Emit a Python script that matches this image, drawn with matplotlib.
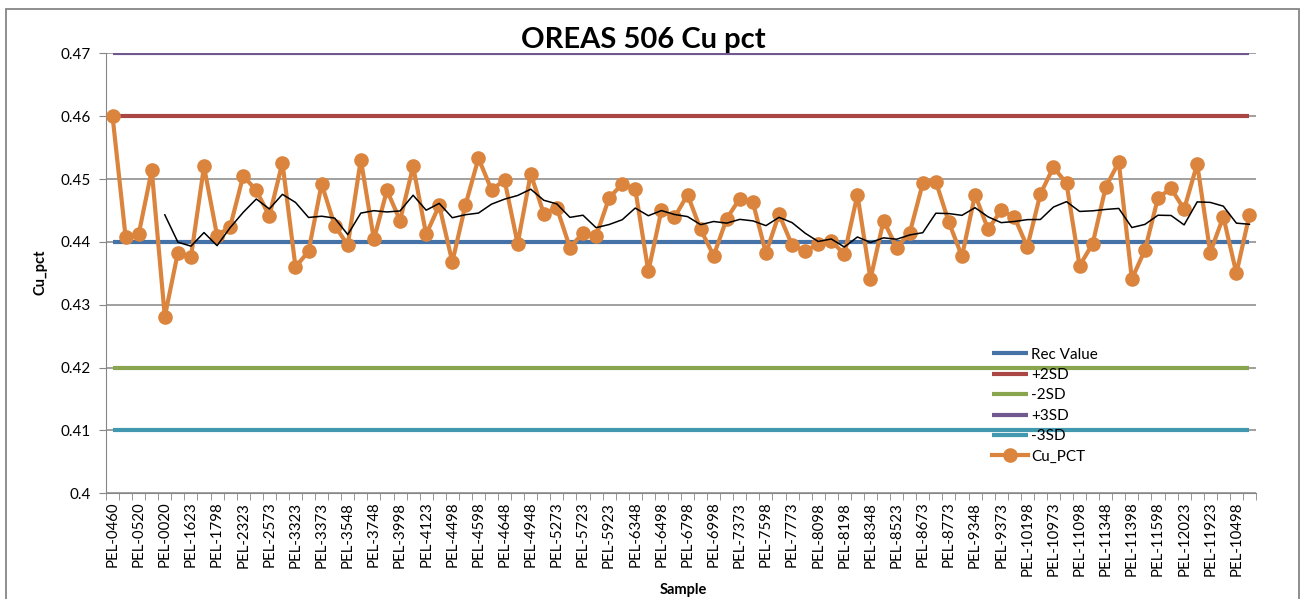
import matplotlib
matplotlib.use('Agg')
import matplotlib.pyplot as plt
from matplotlib.patches import Rectangle
import pandas as pd

plt.rcParams['font.family'] = ['Lato', 'DejaVu Sans']

# sample labels shown on the axis (every second sample)
labels = ['PEL-0460', 'PEL-0520', 'PEL-0020', 'PEL-1623', 'PEL-1798', 'PEL-2323', 'PEL-2573',
          'PEL-3323', 'PEL-3373', 'PEL-3548', 'PEL-3748', 'PEL-3998', 'PEL-4123', 'PEL-4498',
          'PEL-4598', 'PEL-4648', 'PEL-4948', 'PEL-5273', 'PEL-5723', 'PEL-5923', 'PEL-6348',
          'PEL-6498', 'PEL-6798', 'PEL-6998', 'PEL-7373', 'PEL-7598', 'PEL-7773', 'PEL-8098',
          'PEL-8198', 'PEL-8348', 'PEL-8523', 'PEL-8673', 'PEL-8773', 'PEL-9348', 'PEL-9373',
          'PEL-10198', 'PEL-10973', 'PEL-11098', 'PEL-11348', 'PEL-11398', 'PEL-11598',
          'PEL-12023', 'PEL-11923', 'PEL-10498']

cu_pct = [0.4600, 0.4408, 0.4412, 0.4514, 0.4281, 0.4383, 0.4376, 0.4520, 0.4410, 0.4424,
          0.4505, 0.4482, 0.4441, 0.4526, 0.4360, 0.4385, 0.4492, 0.4426, 0.4395, 0.4531,
          0.4404, 0.4482, 0.4434, 0.4520, 0.4412, 0.4458, 0.4368, 0.4458, 0.4533, 0.4483,
          0.4498, 0.4397, 0.4508, 0.4445, 0.4454, 0.4391, 0.4414, 0.4409, 0.4470, 0.4492,
          0.4484, 0.4353, 0.4450, 0.4439, 0.4475, 0.4420, 0.4378, 0.4437, 0.4469, 0.4463,
          0.4382, 0.4444, 0.4395, 0.4385, 0.4397, 0.4402, 0.4380, 0.4475, 0.4341, 0.4434,
          0.4391, 0.4414, 0.4493, 0.4496, 0.4431, 0.4377, 0.4475, 0.4420, 0.4450, 0.4440,
          0.4392, 0.4476, 0.4519, 0.4493, 0.4362, 0.4397, 0.4487, 0.4527, 0.4341, 0.4387,
          0.4470, 0.4485, 0.4452, 0.4524, 0.4383, 0.4440, 0.4350, 0.4443]

rec_value = 0.44
plus2sd = 0.46
minus2sd = 0.42
plus3sd = 0.47
minus3sd = 0.41

n = len(cu_pct)
x = list(range(n))
ma = pd.Series(cu_pct).rolling(5).mean()  # 5 pt moving average trendline

fig = plt.figure(figsize=(13.06, 5.99), dpi=100)
ax = fig.add_axes([106/1306, 1-493.3/599, 1150/1306, 440/599])

# gridlines
for g in [0.40, 0.41, 0.42, 0.43, 0.44, 0.45, 0.46, 0.47]:
    ax.axhline(g, color='#868686', lw=1.1, zorder=0)

lw_ref = 3.0
ax.plot(x, [rec_value]*n, color='#4572A7', lw=lw_ref, label='Rec Value', solid_capstyle='butt')
ax.plot(x, [plus2sd]*n, color='#AA4643', lw=lw_ref, label='+2SD', solid_capstyle='butt')
ax.plot(x, [minus2sd]*n, color='#89A54E', lw=lw_ref, label='-2SD', solid_capstyle='butt')
ax.plot(x, [plus3sd]*n, color='#71588F', lw=lw_ref, label='+3SD', solid_capstyle='butt')
ax.plot(x, [minus3sd]*n, color='#4198AF', lw=lw_ref, label='-3SD', solid_capstyle='butt')
ax.plot(x, cu_pct, color='#DB843D', lw=3.0, marker='o', markersize=9.5, label='Cu_PCT', zorder=5)
ax.plot(x, ma, color='black', lw=1.1, zorder=6)

ax.set_xlim(-0.5, n - 0.5)
ax.set_ylim(0.40, 0.47)
ax.set_yticks([0.40, 0.41, 0.42, 0.43, 0.44, 0.45, 0.46, 0.47])
ax.set_yticklabels(['0.4', '0.41', '0.42', '0.43', '0.44', '0.45', '0.46', '0.47'])

ax.set_xticks(x[::2])
ax.set_xticklabels(labels, rotation=90)
ax.set_xticks([i - 0.5 for i in range(n + 1)], minor=True)
ax.tick_params(axis='x', which='major', length=0, pad=6, labelsize=10.8)
ax.tick_params(axis='x', which='minor', length=5, color='#868686', direction='out')
ax.tick_params(axis='y', length=5, color='#868686', labelsize=11, pad=6)

for s in ['top', 'right']:
    ax.spines[s].set_visible(False)
ax.spines['left'].set_color('#868686')
ax.spines['bottom'].set_color('#868686')

leg = ax.legend(loc='upper left', bbox_to_anchor=(984/1306, 1-340/599),
                bbox_transform=fig.transFigure, frameon=False, fontsize=11,
                handlelength=2.4, handletextpad=0.2, labelspacing=0.42, borderpad=0)

fig.text(643/1306, 1-40/599, 'OREAS 506 Cu pct', ha='center', va='center',
         fontsize=21, fontweight='bold')
fig.text(40/1306, 1-272/599, 'Cu_pct', rotation=90, ha='center', va='center',
         fontsize=10.5, fontweight='bold')
fig.text(683/1306, 1-590/599, 'Sample', ha='center', va='center',
         fontsize=10.5, fontweight='bold')

fig.patches.append(Rectangle((5.5/1306, -0.02), 1293.5/1306, 1.02 - 8.5/599,
                             transform=fig.transFigure, fill=False,
                             edgecolor='#868686', lw=1.3))

fig.savefig('out.png', dpi=100)
